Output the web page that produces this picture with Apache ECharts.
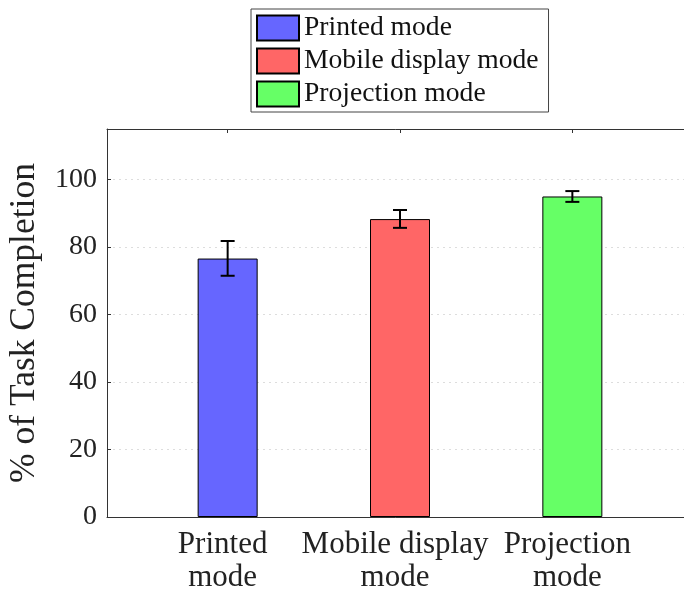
<!DOCTYPE html>
<html>
<head>
<meta charset="utf-8">
<script src="https://cdn.jsdelivr.net/npm/echarts@6/dist/echarts.min.js"></script>
<style>html,body{margin:0;padding:0;background:#fff;overflow:hidden;}#chart{width:684px;height:594px;}</style>
</head>
<body>
<div id="chart"></div>
<script>
var categories = ['Printed mode', 'Mobile display mode', 'Projection mode'];
var tickLabels = ['Printed\nmode', 'Mobile display\nmode', 'Projection\nmode'];
var positions = [1, 2, 3];
var means = [76.6, 88.3, 95.0];
var errLow = [71.5, 85.7, 93.4];
var errHigh = [81.8, 91.0, 96.6];
var colors = ['#6666ff', '#ff6666', '#66ff66'];
var yTicks = [0, 20, 40, 60, 80, 100];

var FONT = 'Liberation Serif';
var chart = echarts.init(document.getElementById('chart'), null, {renderer: 'canvas'});

var series = categories.map(function (name, i) {
  return {
    name: name,
    type: 'bar',
    barWidth: 60,
    barGap: '-100%',
    data: [[positions[i], means[i]]],
    itemStyle: {color: colors[i], borderColor: '#000', borderWidth: 1},
    z: 2
  };
});

series.push({
  type: 'custom',
  name: 'err',
  z: 5,
  data: positions.map(function (p, i) { return [p, errLow[i], errHigh[i]]; }),
  renderItem: function (params, api) {
    var lo = api.coord([api.value(0), api.value(1)]);
    var hi = api.coord([api.value(0), api.value(2)]);
    var hw = 7;
    var st = {stroke: '#000', lineWidth: 2};
    return {
      type: 'group',
      children: [
        {type: 'line', shape: {x1: lo[0], y1: lo[1], x2: hi[0], y2: hi[1]}, style: st},
        {type: 'line', shape: {x1: lo[0] - hw, y1: lo[1], x2: lo[0] + hw, y2: lo[1]}, style: st},
        {type: 'line', shape: {x1: hi[0] - hw, y1: hi[1], x2: hi[0] + hw, y2: hi[1]}, style: st}
      ]
    };
  }
});

chart.setOption({
  animation: false,
  backgroundColor: '#fff',
  textStyle: {fontFamily: FONT},
  legend: {
    data: categories,
    orient: 'vertical',
    left: 251,
    top: 9,
    icon: 'rect',
    itemWidth: 42,
    itemHeight: 25,
    itemGap: 5,
    padding: [5, 10, 4, 5],
    borderColor: '#444',
    borderWidth: 1,
    textStyle: {fontFamily: FONT, fontSize: 27.6, color: '#111'}
  },
  grid: {left: 107, width: 586, top: 129, height: 388, containLabel: false, outerBoundsMode: 'none'},
  xAxis: [{
    type: 'value',
    min: 0.3,
    max: 3.7,
    position: 'bottom',
    axisLine: {show: true, onZero: false, lineStyle: {color: '#333', width: 1}},
    axisTick: {show: true, inside: true, length: 4, customValues: positions, lineStyle: {color: '#333'}},
    axisLabel: {
      customValues: positions,
      formatter: function (v) { return tickLabels[Math.round(v) - 1]; },
      fontFamily: FONT, fontSize: 31, color: '#222', lineHeight: 33, margin: 11,
      padding: [0, 10, 0, 0]
    },
    splitLine: {show: false}
  }, {
    type: 'value',
    min: 0.3,
    max: 3.7,
    position: 'top',
    axisLine: {show: true, onZero: false, lineStyle: {color: '#333', width: 1}},
    axisTick: {show: true, inside: true, length: 4, customValues: positions, lineStyle: {color: '#333'}},
    axisLabel: {show: false},
    splitLine: {show: false}
  }],
  yAxis: {
    type: 'value',
    min: 0,
    max: 115,
    interval: 20,
    name: '% of Task Completion',
    nameLocation: 'middle',
    nameGap: 64,
    nameTextStyle: {fontFamily: FONT, fontSize: 35.5, color: '#222'},
    axisLine: {show: true, lineStyle: {color: '#333', width: 1}},
    axisTick: {show: true, inside: true, length: 4, customValues: yTicks, lineStyle: {color: '#333'}},
    axisLabel: {customValues: yTicks, fontFamily: FONT, fontSize: 28, color: '#222', margin: 10},
    splitLine: {show: true, lineStyle: {color: '#dddddd', type: [2, 4], width: 1}}
  },
  series: series
});
</script>
</body>
</html>
